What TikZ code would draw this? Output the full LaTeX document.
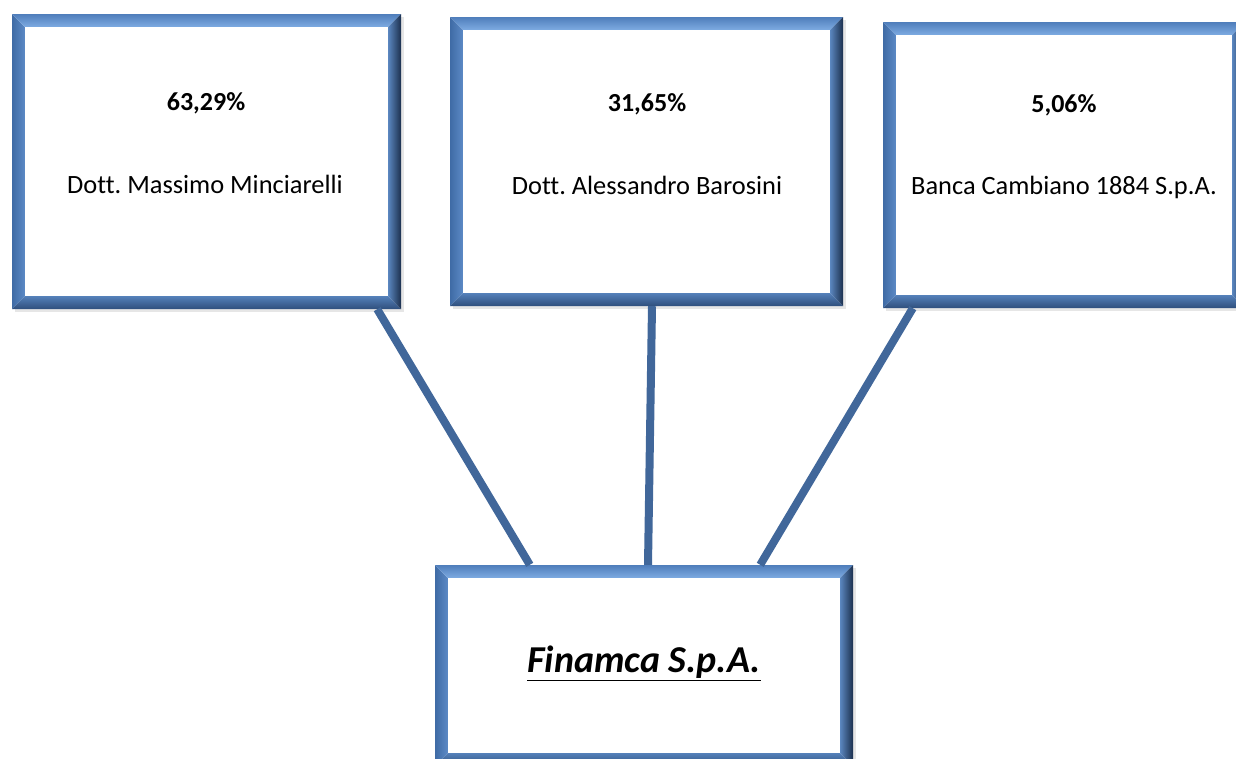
\documentclass[tikz,border=0pt]{standalone}
\usepackage{fontspec}
\setmainfont{Carlito}[Ligatures={NoCommon}]
\usetikzlibrary{shadows}

\definecolor{leftout}{HTML}{3F6BA5}
\definecolor{leftin}{HTML}{5C8AC6}
\definecolor{topout}{HTML}{4F7EBB}
\definecolor{topin}{HTML}{7EABE2}
\definecolor{bottomin}{HTML}{5581BA}
\definecolor{bottomout}{HTML}{2F4F7D}
\definecolor{rightin}{HTML}{5B87C0}
\definecolor{rightout}{HTML}{1C304E}
\definecolor{linkblue}{HTML}{41679A}

\begin{document}
\frenchspacing
\begin{tikzpicture}[x=1pt,y=-1pt]

\tikzstyle{holder}=[rectangle,inner sep=0pt,fill=white,
  drop shadow={opacity=0.2,shadow xshift=3pt,shadow yshift=-3pt},
  path picture={
    \coordinate (sw) at (path picture bounding box.south west);
    \coordinate (ne) at (path picture bounding box.north east);
    \coordinate (nw) at (path picture bounding box.north west);
    \coordinate (se) at (path picture bounding box.south east);
    \shade[left color=leftout,right color=leftin] (sw)--(nw)--([shift={(13pt,-13pt)}]nw)--([shift={(13pt,13pt)}]sw)--cycle;
    \shade[top color=topout,bottom color=topin] (nw)--(ne)--([shift={(-13pt,-13pt)}]ne)--([shift={(13pt,-13pt)}]nw)--cycle;
    \shade[top color=bottomin,bottom color=bottomout] (sw)--(se)--([shift={(-13pt,13pt)}]se)--([shift={(13pt,13pt)}]sw)--cycle;
    \shade[left color=rightin,right color=rightout] (se)--(ne)--([shift={(-13pt,-13pt)}]ne)--([shift={(-13pt,13pt)}]se)--cycle;
    \fill[white] ([shift={(13pt,13pt)}]sw) rectangle ([shift={(-13pt,-13pt)}]ne);
  }]
\tikzstyle{share}=[font=\fontsize{26}{30}\selectfont\bfseries]
\tikzstyle{owner}=[font=\fontsize{26.4}{30}\selectfont]
\tikzstyle{company}=[font=\fontsize{38}{42}\selectfont\bfseries\itshape]
\tikzstyle{link}=[line width=8pt,draw=linkblue]

\useasboundingbox (0,0) rectangle (1236,758);

% shareholders
\node[holder,minimum width=389pt,minimum height=295pt](massimo)at(206.5,161.5){};
\node[holder,minimum width=393pt,minimum height=289pt](alessandro)at(646.5,161.5){};
\node[holder,minimum width=362pt,minimum height=286pt](banca)at(1064,165){};

\node[share](pmassimo)at(206,103){63,29\%};
\node[owner](nmassimo)at(205,184){Dott. Massimo Minciarelli};
\node[share](palessandro)at(647,104){31,65\%};
\node[owner](nalessandro)at(647,185){Dott. Alessandro Barosini};
\node[share](pbanca)at(1064,105){5,06\%};
\node[owner](nbanca)at(1064,187){Banca Cambiano 1884 S.p.A.};

% company
\node[holder,minimum width=418pt,minimum height=201pt](finamca)at(644,665.5){};
\node[company](nfinamca)at(644,663){\underline{Finamca S.p.A.}};

\draw[link]([xshift=-24pt]massimo.south east)--([xshift=95pt]finamca.north west);
\draw[link]([xshift=5.5pt]alessandro.south)--([xshift=4pt]finamca.north);
\draw[link]([xshift=30pt]banca.south west)--([xshift=-93pt]finamca.north east);

\end{tikzpicture}
\end{document}
